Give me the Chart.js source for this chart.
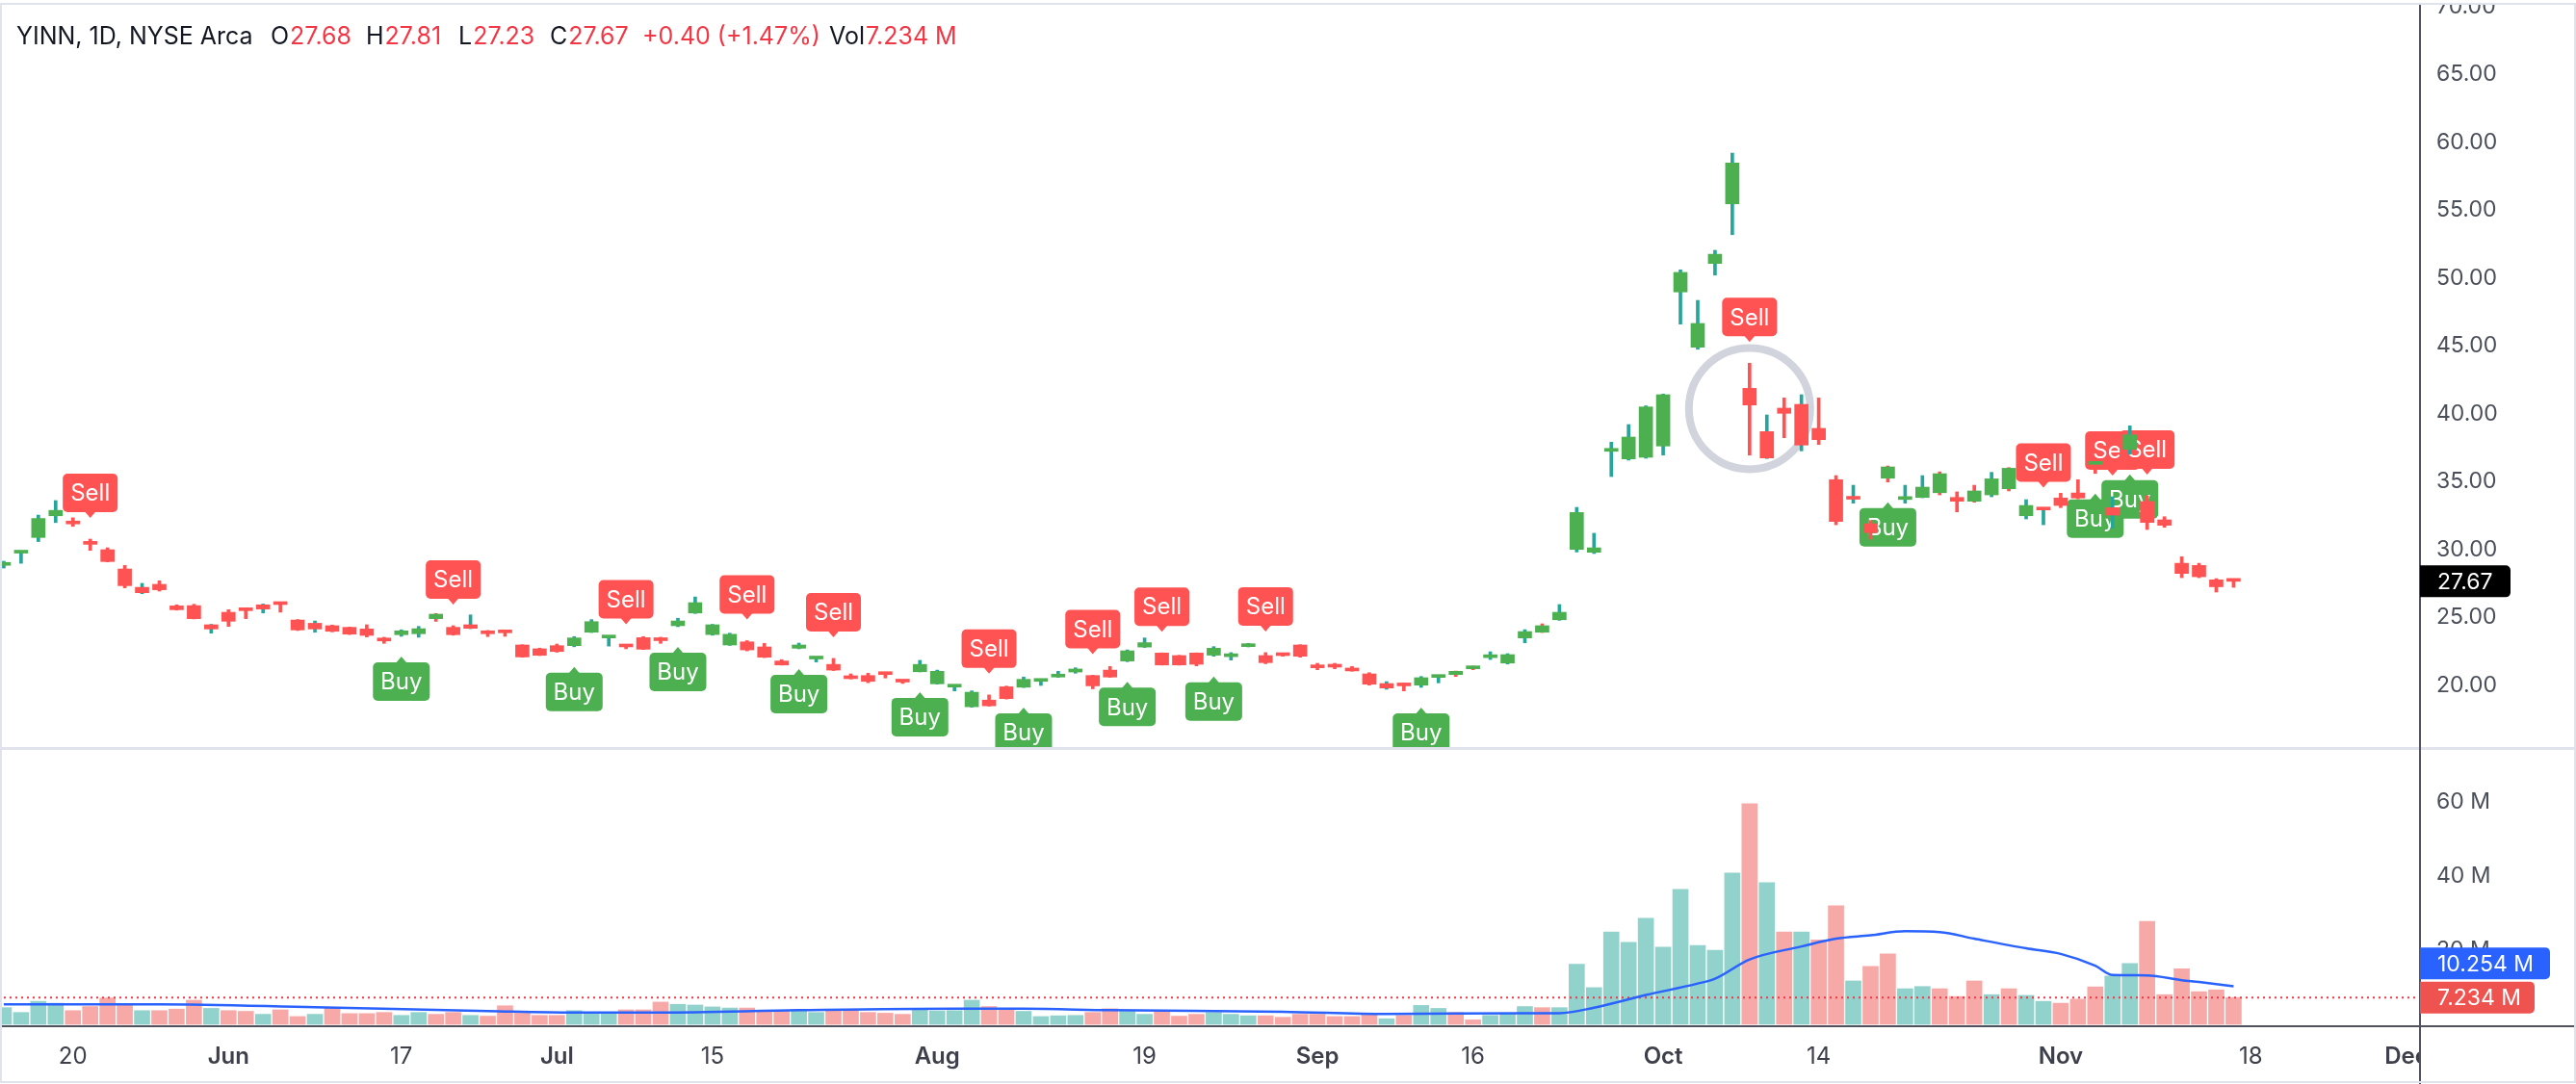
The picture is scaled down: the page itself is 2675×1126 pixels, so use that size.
<!DOCTYPE html>
<html>
<head>
<meta charset="utf-8">
<script src="https://cdn.jsdelivr.net/npm/chart.js@4.4.1/dist/chart.umd.min.js"></script>
<style>
  html, body { margin: 0; padding: 0; background: #fff; }
  #wrap { width: 2675px; height: 1126px; }
</style>
</head>
<body>
<div id="wrap"><canvas id="chart" width="2675" height="1126"></canvas></div>
<script>
// Time axis: bar index of each labelled trading day, and its label
const tickIdx = [4, 13, 23, 32, 41, 54, 66, 76, 85, 96, 105, 119, 130, 139];
const tickLabels = ["20", "Jun", "17", "Jul", "15", "Aug", "19", "Sep", "16", "Oct", "14", "Nov", "18", "Dec"];

// Daily candles, May 14 .. Nov 15 (one entry per trading day)
const opens = [
  28.85, 29.75, 30.9, 32.5, 31.95, 30.45, 30.0, 28.58, 26.83, 27.45,
  25.86, 25.88, 24.16, 25.39, 25.55, 25.63, 26.0, 24.82, 24.16, 24.4,
  24.28, 24.16, 23.36, 23.74, 23.81, 25.25, 24.28, 24.21, 24.02, 23.92,
  22.98, 22.7, 22.93, 22.93, 23.92, 23.5, 22.9, 23.52, 23.35, 24.4,
  25.34, 23.75, 22.98, 23.21, 22.84, 21.8, 22.74, 21.95, 21.55, 20.65,
  20.73, 20.9, 20.34, 21.01, 20.12, 19.88, 18.43, 18.92, 19.9, 19.87,
  20.3, 20.62, 20.99, 20.73, 21.13, 21.8, 22.83, 22.39, 22.2, 22.39,
  22.23, 22.12, 22.86, 22.2, 22.25, 22.98, 21.38, 21.4, 21.12, 20.85,
  19.81, 20.14, 20.02, 20.59, 21.04, 21.33, 22.05, 21.65, 23.5, 24.4,
  24.84, 30.02, 29.81, 37.25, 36.69, 36.81, 37.64, 48.99, 44.92, 51.09,
  55.48, 41.89, 36.76, 40.43, 37.71, 38.94, 35.16, 33.72, 31.91, 36.1,
  33.7, 33.85, 35.6, 33.85, 34.33, 34.04, 36.0, 32.5, 32.93, 33.81,
  34.18, 36.33, 32.55, 37.4, 33.55, 32.2, 29.0, 28.84, 27.78, 27.68
];
const highs = [
  29.15, 29.82, 32.55, 33.62, 32.35, 30.78, 30.14, 28.84, 27.52, 27.71,
  25.94, 25.98, 24.5, 25.58, 25.7, 26.0, 26.02, 24.85, 24.75, 24.45,
  24.3, 24.47, 23.55, 24.1, 24.35, 25.3, 24.4, 25.2, 24.05, 23.94,
  23.0, 22.75, 23.05, 23.6, 24.85, 23.54, 22.95, 23.6, 23.55, 24.95,
  26.52, 24.5, 23.85, 23.3, 23.1, 21.9, 23.12, 21.99, 21.99, 20.85,
  20.9, 20.92, 20.36, 21.85, 21.13, 19.92, 19.6, 19.3, 19.95, 20.62,
  20.35, 21.04, 21.3, 20.75, 21.4, 22.62, 23.5, 22.4, 22.22, 22.4,
  22.86, 22.42, 23.1, 22.42, 22.3, 23.0, 21.63, 21.63, 21.4, 20.94,
  20.28, 20.15, 20.66, 20.7, 21.06, 21.42, 22.48, 22.34, 24.11, 24.54,
  25.96, 33.12, 31.21, 37.92, 39.22, 40.6, 41.47, 50.62, 48.37, 52.06,
  59.22, 43.74, 39.93, 41.18, 41.42, 41.18, 35.46, 34.75, 32.15, 36.17,
  34.75, 35.46, 35.74, 34.26, 34.75, 35.7, 36.05, 33.69, 33.02, 34.16,
  35.16, 36.35, 33.9, 39.13, 33.97, 32.43, 29.48, 29.0, 27.87, 27.81
];
const lows = [
  28.65, 29.0, 30.6, 32.0, 31.72, 29.95, 29.1, 27.19, 26.76, 26.95,
  25.55, 24.9, 23.85, 24.35, 24.92, 25.34, 25.4, 24.05, 23.92, 23.95,
  23.75, 23.57, 23.1, 23.62, 23.55, 24.72, 23.7, 24.18, 23.6, 23.62,
  22.08, 22.2, 22.45, 22.85, 23.9, 22.9, 22.7, 22.65, 23.1, 24.33,
  25.3, 23.7, 22.95, 22.55, 22.05, 21.5, 22.7, 21.73, 21.1, 20.48,
  20.2, 20.55, 20.15, 21.0, 20.1, 19.6, 18.4, 18.48, 19.0, 19.85,
  20.0, 20.6, 20.9, 19.75, 20.6, 21.75, 22.8, 21.5, 21.5, 21.44,
  22.15, 21.87, 22.84, 21.6, 22.15, 22.08, 21.16, 21.23, 21.05, 20.02,
  19.72, 19.6, 19.86, 20.19, 20.66, 21.16, 21.91, 21.58, 23.14, 23.9,
  24.8, 29.83, 29.72, 35.39, 36.6, 36.74, 36.97, 46.62, 44.77, 50.23,
  53.21, 36.97, 36.72, 38.25, 37.28, 37.75, 31.84, 33.43, 30.78, 34.99,
  33.43, 33.83, 34.04, 32.79, 33.5, 33.9, 34.33, 32.27, 31.84, 33.1,
  33.75, 35.62, 31.6, 37.04, 31.49, 31.65, 27.94, 27.94, 26.88, 27.23
];
const closes = [
  28.92, 29.79, 32.3, 32.9, 31.9, 30.4, 29.13, 27.35, 27.23, 27.05,
  25.58, 24.92, 24.47, 24.73, 25.51, 25.94, 25.96, 24.09, 24.58, 23.99,
  23.78, 23.69, 23.28, 24.02, 24.18, 24.92, 23.74, 24.47, 23.81, 23.88,
  22.1, 22.22, 22.5, 23.5, 24.7, 23.52, 22.84, 22.67, 23.3, 24.75,
  26.1, 24.47, 23.77, 22.62, 22.08, 21.51, 22.98, 21.97, 21.13, 20.5,
  20.3, 20.8, 20.25, 21.55, 21.04, 19.9, 19.5, 18.5, 19.03, 20.45,
  20.33, 20.78, 21.21, 19.97, 20.62, 22.55, 23.15, 21.51, 21.51, 21.56,
  22.74, 22.15, 22.98, 21.68, 22.2, 22.15, 21.3, 21.35, 21.07, 20.09,
  20.14, 19.97, 20.57, 20.63, 20.8, 21.23, 22.1, 22.27, 23.97, 23.92,
  25.39, 32.74, 30.14, 37.35, 38.3, 40.52, 41.42, 50.43, 46.67, 51.77,
  58.49, 40.66, 38.7, 40.05, 40.71, 38.11, 32.08, 33.77, 31.26, 35.27,
  33.78, 34.61, 34.2, 33.57, 33.57, 35.22, 34.49, 33.26, 33.0, 33.26,
  33.81, 36.29, 33.1, 38.46, 32.01, 31.8, 28.25, 28.01, 27.27, 27.67
];
// Indicator state that colours the bodies (1 = green, 0 = red)
const trend = [
  1, 1, 1, 1, 0, 0, 0, 0, 0, 0, 0, 0, 0, 0, 0, 0, 0, 0, 0, 0,
  0, 0, 0, 1, 1, 1, 0, 0, 0, 0, 0, 0, 0, 1, 1, 1, 0, 0, 0, 1,
  1, 1, 1, 0, 0, 0, 1, 1, 0, 0, 0, 0, 0, 1, 1, 1, 1, 0, 0, 1,
  1, 1, 1, 0, 0, 1, 1, 0, 0, 0, 1, 1, 1, 0, 0, 0, 0, 0, 0, 0,
  0, 0, 1, 1, 1, 1, 1, 1, 1, 1, 1, 1, 1, 1, 1, 1, 1, 1, 1, 1,
  1, 0, 0, 0, 0, 0, 0, 0, 0, 1, 1, 1, 1, 0, 1, 1, 1, 1, 0, 0,
  0, 1, 0, 1, 0, 0, 0, 0, 0, 0
];
// Volume, millions of shares
const volumes = [
  4.5, 3.2, 6.2, 5.7, 3.7, 4.8, 7.1, 5.4, 3.7, 3.7,
  4.1, 6.5, 4.3, 3.7, 3.5, 2.7, 3.9, 2.1, 2.7, 4.4,
  2.9, 2.9, 3.2, 2.4, 3.2, 2.7, 3.2, 2.4, 2.2, 5.0,
  3.0, 2.4, 2.4, 3.7, 3.2, 3.2, 3.9, 3.9, 6.0, 5.4,
  5.2, 4.7, 4.4, 4.4, 3.5, 3.5, 4.0, 3.2, 3.9, 3.9,
  3.2, 3.0, 2.7, 3.9, 3.6, 3.7, 6.5, 4.8, 4.1, 3.5,
  2.1, 2.3, 2.4, 3.2, 4.2, 3.5, 2.7, 3.5, 2.2, 2.7,
  3.2, 2.7, 2.3, 2.3, 1.9, 2.7, 2.7, 2.1, 2.1, 2.7,
  1.5, 2.4, 5.1, 4.3, 3.2, 1.2, 2.4, 3.0, 4.8, 4.5,
  4.5, 16.2, 9.9, 24.9, 22.1, 28.6, 20.8, 36.4, 21.3, 20.0,
  40.8, 59.5, 38.2, 24.9, 24.9, 22.8, 32.0, 11.7, 15.6, 19.0,
  9.6, 10.2, 9.6, 7.5, 11.7, 8.0, 9.6, 7.8, 6.2, 5.7,
  6.8, 10.1, 13.0, 16.4, 27.8, 8.0, 15.0, 8.8, 9.3, 7.234
];
// Volume moving average, read at these bars
const maIdx = [0, 9, 18, 28, 33, 38, 46, 55, 59, 64, 74, 80, 88, 90, 92, 95, 98, 99, 101, 104, 106, 108, 110, 112, 114, 117, 119, 121, 122, 124, 126, 127, 129];
const maVals = [5.4, 5.4, 4.6, 3.6, 3.2, 3.2, 3.8, 4.2, 4.2, 3.8, 3.4, 2.8, 3.0, 3.0, 4.5, 7.9, 11.0, 12.3, 17.5, 21.0, 23.1, 24.0, 25.1, 24.9, 23.1, 20.5, 19.0, 15.8, 13.3, 13.2, 11.9, 11.4, 10.254];

// Strategy signals (bar index)
const buyIdx = [23, 33, 39, 46, 53, 59, 65, 70, 82, 109, 121, 123];
const sellIdx = [5, 26, 36, 43, 48, 57, 63, 67, 73, 101, 118, 122, 124];
// Circle drawn on the chart, around the day after the top
const circleMark = { k: 101, price: 40.4 };

const priceTicks = [20, 25, 30, 35, 40, 45, 50, 55, 60, 65, 70];
const volTicks = [20, 40, 60];

const FONT = 'Inter, "Noto Sans", sans-serif';
const GREEN = "#4caf50";
const RED = "#ff5252";
const TEAL = "#26a69a";
const AXIS_TEXT = "#4a4e59";
const AXIS_LINE = "#50535e";

const N = closes.length;
const bars = [...Array(N).keys()];
const isUp = bars.map(i => closes[i] >= opens[i]);

// Draw a Buy (below bar) or Sell (above bar) flag with its pointer at tipY
function drawSignal(ctx, cx, tipY, text, isBuy) {
  ctx.font = "24px " + FONT;
  const w = Math.round(ctx.measureText(text).width) + 16;
  const h = 40, tri = 6;
  const top = isBuy ? tipY + tri : tipY - tri - h;
  ctx.fillStyle = isBuy ? GREEN : RED;
  ctx.beginPath();
  ctx.roundRect(cx - w / 2, top, w, h, 5);
  ctx.fill();
  ctx.beginPath();
  if (isBuy) {
    ctx.moveTo(cx - tri, top + 1);
    ctx.lineTo(cx, tipY);
    ctx.lineTo(cx + tri, top + 1);
  } else {
    ctx.moveTo(cx - tri, top + h - 1);
    ctx.lineTo(cx, tipY);
    ctx.lineTo(cx + tri, top + h - 1);
  }
  ctx.fill();
  ctx.fillStyle = "#fff";
  ctx.textAlign = "center";
  ctx.textBaseline = "middle";
  ctx.fillText(text, cx, top + h / 2 + 1);
}

// Value tag on the right price/volume scale
function drawTag(ctx, x0, cy, w, color, text) {
  ctx.fillStyle = color;
  ctx.beginPath();
  ctx.roundRect(x0, cy - 16.5, w, 33, [0, 5, 5, 0]);
  ctx.fill();
  ctx.fillStyle = "#fff";
  ctx.font = "23px " + FONT;
  ctx.textAlign = "left";
  ctx.textBaseline = "middle";
  ctx.fillText(text, x0 + 18, cy + 1);
}

const overlay = {
  id: "overlay",
  beforeDatasetsDraw(chart) {
    const { ctx } = chart;
    const x = chart.scales.x, y = chart.scales.y;
    ctx.save();
    ctx.beginPath();
    ctx.rect(0, y.top, x.right, y.bottom - y.top - 1);
    ctx.clip();

    // highlight circle
    ctx.strokeStyle = "#d1d4dc";
    ctx.lineWidth = 8;
    ctx.beginPath();
    ctx.arc(x.getPixelForValue(circleMark.k), y.getPixelForValue(circleMark.price), 63, 0, Math.PI * 2);
    ctx.stroke();

    // signals sit under the candles
    buyIdx.forEach(k => drawSignal(ctx, x.getPixelForValue(k), y.getPixelForValue(lows[k]) + 21, "Buy", true));
    sellIdx.forEach(k => drawSignal(ctx, x.getPixelForValue(k), y.getPixelForValue(highs[k]) - 22, "Sell", false));
    ctx.restore();
  },
  afterDraw(chart) {
    const { ctx, width: W, height: H } = chart;
    const x = chart.scales.x, y = chart.scales.y, yv = chart.scales.yv;
    ctx.save();

    // pane separator
    ctx.fillStyle = "#e0e3eb";
    ctx.fillRect(0, y.bottom - 1, W, 3);

    // hide the part of the time labels that runs under the price scale
    ctx.fillStyle = "#fff";
    ctx.fillRect(x.right, x.top + 1, W - x.right, H - x.top);

    // axis lines
    ctx.fillStyle = AXIS_LINE;
    ctx.fillRect(0, x.top - 1, W, 2);
    ctx.fillRect(x.right, 0, 2, H);

    // last price tag
    const last = N - 1;
    drawTag(ctx, x.right + 1, y.getPixelForValue(closes[last]), 94, "#000", closes[last].toFixed(2));

    // volume tags: MA above last volume when they collide
    const volY = yv.getPixelForValue(volumes[last]);
    let maY = yv.getPixelForValue(maVals[maVals.length - 1]);
    if (Math.abs(maY - volY) < 35) maY = volY - 35.5;
    drawTag(ctx, x.right + 1, maY, 135, "#2962ff", maVals[maVals.length - 1].toFixed(3) + " M");
    drawTag(ctx, x.right + 1, volY, 119, "#ef5350", volumes[last].toFixed(3) + " M");

    // frame
    ctx.fillStyle = "#fff";
    ctx.fillRect(0, 0, W, 3);
    ctx.strokeStyle = "#e0e3eb";
    ctx.lineWidth = 2;
    ctx.strokeRect(1, 4, W - 2, H - 6);

    // legend line at the top left
    const prev = closes[last - 1];
    const chg = closes[last] - prev;
    const valColor = isUp[last] ? TEAL : "#f23645";
    ctx.font = "25px " + FONT;
    ctx.textBaseline = "middle";
    ctx.textAlign = "left";
    ctx.fillStyle = "#131722";
    ctx.fillText("YINN, 1D, NYSE Arca", 17, 38);
    const parts = [
      ["O", opens[last].toFixed(2), 281],
      ["H", highs[last].toFixed(2), 380],
      ["L", lows[last].toFixed(2), 476],
      ["C", closes[last].toFixed(2), 571],
      ["", (chg >= 0 ? "+" : "") + chg.toFixed(2) + " (" + (chg >= 0 ? "+" : "") + (chg / prev * 100).toFixed(2) + "%)", 666],
      ["Vol", volumes[last].toFixed(3) + " M", 861]
    ];
    parts.forEach(p => {
      ctx.fillStyle = "#131722";
      ctx.fillText(p[0], p[2], 38);
      ctx.fillStyle = valColor;
      ctx.fillText(p[1], p[2] + ctx.measureText(p[0]).width + 1, 38);
    });
    ctx.restore();
  }
};

const bodies = {
  type: "bar",
  data: bars.map(i => ({ x: i, y: [opens[i], closes[i]] })),
  backgroundColor: bars.map(i => (trend[i] ? GREEN : RED)),
  barThickness: 14,
  minBarLength: 3,
  grouped: false,
  yAxisID: "y"
};
const wicks = {
  type: "bar",
  data: bars.map(i => ({ x: i, y: [lows[i], highs[i]] })),
  backgroundColor: bars.map(i => (isUp[i] ? TEAL : RED)),
  barThickness: 3,
  minBarLength: 2,
  grouped: false,
  yAxisID: "y"
};
const volBars = {
  type: "bar",
  data: bars.map(i => ({ x: i, y: volumes[i] })),
  backgroundColor: bars.map(i => (isUp[i] ? "rgba(38,166,154,0.5)" : "rgba(239,83,80,0.5)")),
  barThickness: 16,
  grouped: false,
  yAxisID: "yv"
};
const volMA = {
  type: "line",
  data: maIdx.map((k, j) => ({ x: k, y: maVals[j] })),
  borderColor: "#2962ff",
  borderWidth: 2.5,
  pointRadius: 0,
  cubicInterpolationMode: "monotone",
  yAxisID: "yv"
};
const lastVolLine = {
  type: "line",
  data: [{ x: -1, y: volumes[N - 1] }, { x: 141, y: volumes[N - 1] }],
  borderColor: "#f23645",
  borderWidth: 2,
  borderDash: [2, 4],
  pointRadius: 0,
  yAxisID: "yv"
};

const tickFont = { family: FONT, size: 23 };

new Chart(document.getElementById("chart"), {
  type: "bar",
  data: { datasets: [bodies, wicks, volMA, lastVolLine, volBars] },
  options: {
    responsive: false,
    animation: false,
    devicePixelRatio: 1,
    layout: { padding: 0 },
    plugins: { legend: { display: false }, tooltip: { enabled: false } },
    scales: {
      x: {
        type: "linear",
        min: -0.22,
        max: 139.73,
        offset: false,
        grid: { display: false, drawTicks: false, offset: false },
        border: { display: false },
        afterBuildTicks: s => { s.ticks = tickIdx.map(v => ({ value: v })); },
        afterFit: s => { s.height = 60; s.paddingLeft = 0; s.paddingRight = 0; },
        ticks: {
          autoSkip: false,
          maxRotation: 0,
          padding: 17,
          color: "#3d404a",
          font: c => ({ family: FONT, size: 24, weight: isNaN(+tickLabels[c.index]) ? "600" : "400" }),
          callback: (v, i) => tickLabels[i]
        }
      },
      y: {
        type: "linear",
        position: "right",
        stack: "panes",
        stackWeight: 777,
        min: 15.39,
        max: 70.5,
        grid: { display: false, drawTicks: false },
        border: { display: false },
        afterBuildTicks: s => { s.ticks = priceTicks.map(v => ({ value: v })); },
        afterFit: s => { s.width = 163; s.paddingTop = 0; s.paddingBottom = 0; },
        ticks: { padding: 18, color: AXIS_TEXT, font: tickFont, callback: v => v.toFixed(2) }
      },
      yv: {
        type: "linear",
        position: "right",
        stack: "panes",
        stackWeight: 289,
        min: -0.52,
        max: 74.55,
        grid: { display: false, drawTicks: false },
        border: { display: false },
        afterBuildTicks: s => { s.ticks = volTicks.map(v => ({ value: v })); },
        afterFit: s => { s.width = 163; s.paddingTop = 0; s.paddingBottom = 0; },
        ticks: { padding: 18, color: AXIS_TEXT, font: tickFont, callback: v => v + " M" }
      }
    }
  },
  plugins: [overlay]
});
</script>
</body>
</html>
